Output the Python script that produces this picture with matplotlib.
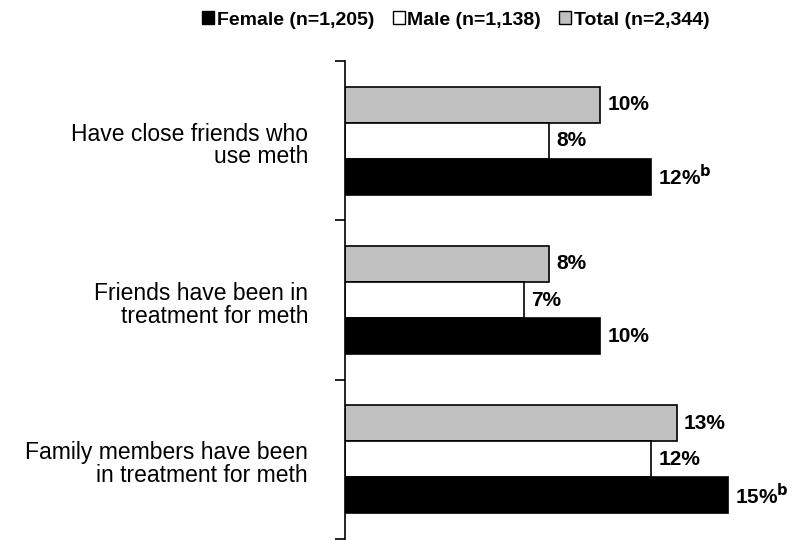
import matplotlib.pyplot as plt
from matplotlib.patches import Patch

plt.rcParams['font.family'] = ['Liberation Sans', 'DejaVu Sans']

categories = ["Have close friends who\nuse meth",
              "Friends have been in\ntreatment for meth",
              "Family members have been\nin treatment for meth"]
total = [10, 8, 13]
male = [8, 7, 12]
female = [12, 10, 15]
female_sup = ["b", "", "b"]

fig = plt.figure(figsize=(8, 5.4), dpi=100)
ax = fig.add_axes([345 / 800, 1 / 540, 455 / 800, 478 / 540])

h = 0.226
ys = list(range(len(categories)))
for i in ys:
    ax.barh(i - h, total[i], height=h, color='#c0c0c0', edgecolor='black', lw=1.2)
    ax.barh(i, male[i], height=h, color='white', edgecolor='black', lw=1.2)
    ax.barh(i + h, female[i], height=h, color='black', edgecolor='black', lw=1.2)
    ax.text(total[i] + 0.28, i - h, f"{total[i]}%", va='center', ha='left',
            fontsize=15, fontweight='bold')
    ax.text(male[i] + 0.28, i, f"{male[i]}%", va='center', ha='left',
            fontsize=15, fontweight='bold')
    lab = f"{female[i]}%"
    if female_sup[i]:
        lab = f"{female[i]}%$^{{\\mathbf{{{female_sup[i]}}}}}$"
    ax.text(female[i] + 0.28, i + h, lab, va='center', ha='left',
            fontsize=15, fontweight='bold')

ax.set_xlim(0, 455 / 25.5)
ax.set_ylim(2.5, -0.5)
ax.set_yticks([-0.5, 0.5, 1.5, 2.5])
ax.set_yticklabels([])
ax.tick_params(axis='y', direction='out', length=7, width=1.2)
for i, c in enumerate(categories):
    ax.text(-1.45, i + 0.03, c, ha='right', va='center', fontsize=16.5,
            linespacing=0.97)
ax.set_xticks([])
for s in ['top', 'right', 'bottom']:
    ax.spines[s].set_visible(False)
ax.spines['left'].set_linewidth(1.2)

handles = [Patch(facecolor='black', edgecolor='black', label='Female (n=1,205)'),
           Patch(facecolor='white', edgecolor='black', label='Male (n=1,138)'),
           Patch(facecolor='#c0c0c0', edgecolor='black', label='Total (n=2,344)')]
fig.legend(handles=handles, loc='center', bbox_to_anchor=(456 / 800, 1 - 20 / 540),
           ncol=3, frameon=False, handlelength=0.62, handleheight=0.62,
           handletextpad=0.15, columnspacing=0.93,
           prop={'weight': 'bold', 'size': 14})

fig.savefig('out.png', dpi=100)
